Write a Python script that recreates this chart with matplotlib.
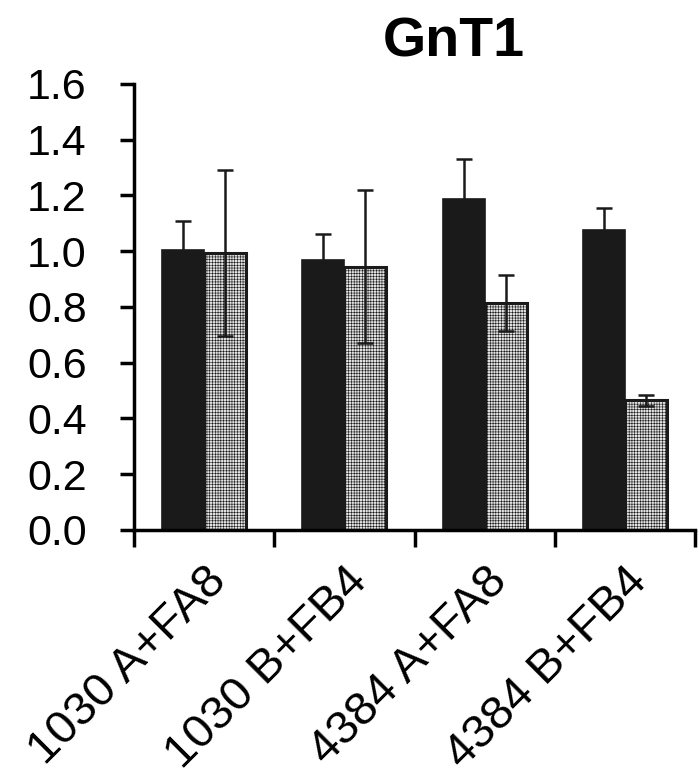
import matplotlib
matplotlib.use('Agg')
import matplotlib.pyplot as plt
import matplotlib.transforms as mtransforms
import numpy as np

plt.rcParams['font.family'] = ['Liberation Sans', 'DejaVu Sans']
plt.rcParams['hatch.color'] = '#b0b0b0'
plt.rcParams['hatch.linewidth'] = 0.4

categories = ['1030 A+FA8', '1030 B+FB4', '4384 A+FA8', '4384 B+FB4']
black_vals = [1.005, 0.968, 1.186, 1.075]
black_err = [0.102, 0.093, 0.145, 0.080]
gray_vals = [0.995, 0.945, 0.815, 0.466]
gray_err = [0.298, 0.275, 0.100, 0.020]

fig = plt.figure(figsize=(6.99, 7.77), dpi=100, facecolor='white')
ax = fig.add_axes([0.1917, 0.3179, 0.8026, 0.574])

x = np.arange(len(categories))
w = 0.3
ax.bar(x - w / 2, black_vals, w, color='#1a1a1a', edgecolor='#1a1a1a',
       linewidth=1.2, zorder=2)
ax.bar(x + w / 2, gray_vals, w, color='#e2e2e2', edgecolor='#1a1a1a',
       linewidth=2.2, hatch='++++++', zorder=2)

# error bars
ax.errorbar(x - w / 2, black_vals, yerr=black_err, fmt='none', ecolor='#1a1a1a',
            elinewidth=1.8, capsize=6, capthick=1.8, zorder=3)
ax.errorbar(x + w / 2, gray_vals, yerr=gray_err, fmt='none', ecolor='#1a1a1a',
            elinewidth=1.8, capsize=6, capthick=1.8, zorder=3)

ax.set_xlim(-0.5, 3.5)
ax.set_ylim(0, 1.6)
ax.set_yticks(np.arange(0, 1.61, 0.2))
ax.set_yticklabels([f'{v:.1f}' for v in np.arange(0, 1.61, 0.2)], fontsize=31)

ax.set_xticks(x)
ax.set_xticklabels(categories, fontsize=34, rotation=45, ha='right',
                   rotation_mode='anchor')
shift = mtransforms.ScaledTranslation(-20 / 100, 0, fig.dpi_scale_trans)
for lab in ax.get_xticklabels():
    lab.set_transform(lab.get_transform() + shift)
ax.set_xticks(np.arange(-0.5, 3.6, 1), minor=True)
ax.tick_params(axis='x', which='major', length=0, pad=21)
ax.tick_params(axis='x', which='minor', length=12, width=2.5, direction='out')
ax.tick_params(axis='y', length=10, width=2.5, direction='out', pad=24)

for s in ['top', 'right']:
    ax.spines[s].set_visible(False)
for s in ['left', 'bottom']:
    ax.spines[s].set_linewidth(2.5)

ax.set_title('GnT1', fontsize=40, fontweight='bold', x=0.57, pad=20)

fig.savefig('out.png', dpi=100, facecolor='white')
